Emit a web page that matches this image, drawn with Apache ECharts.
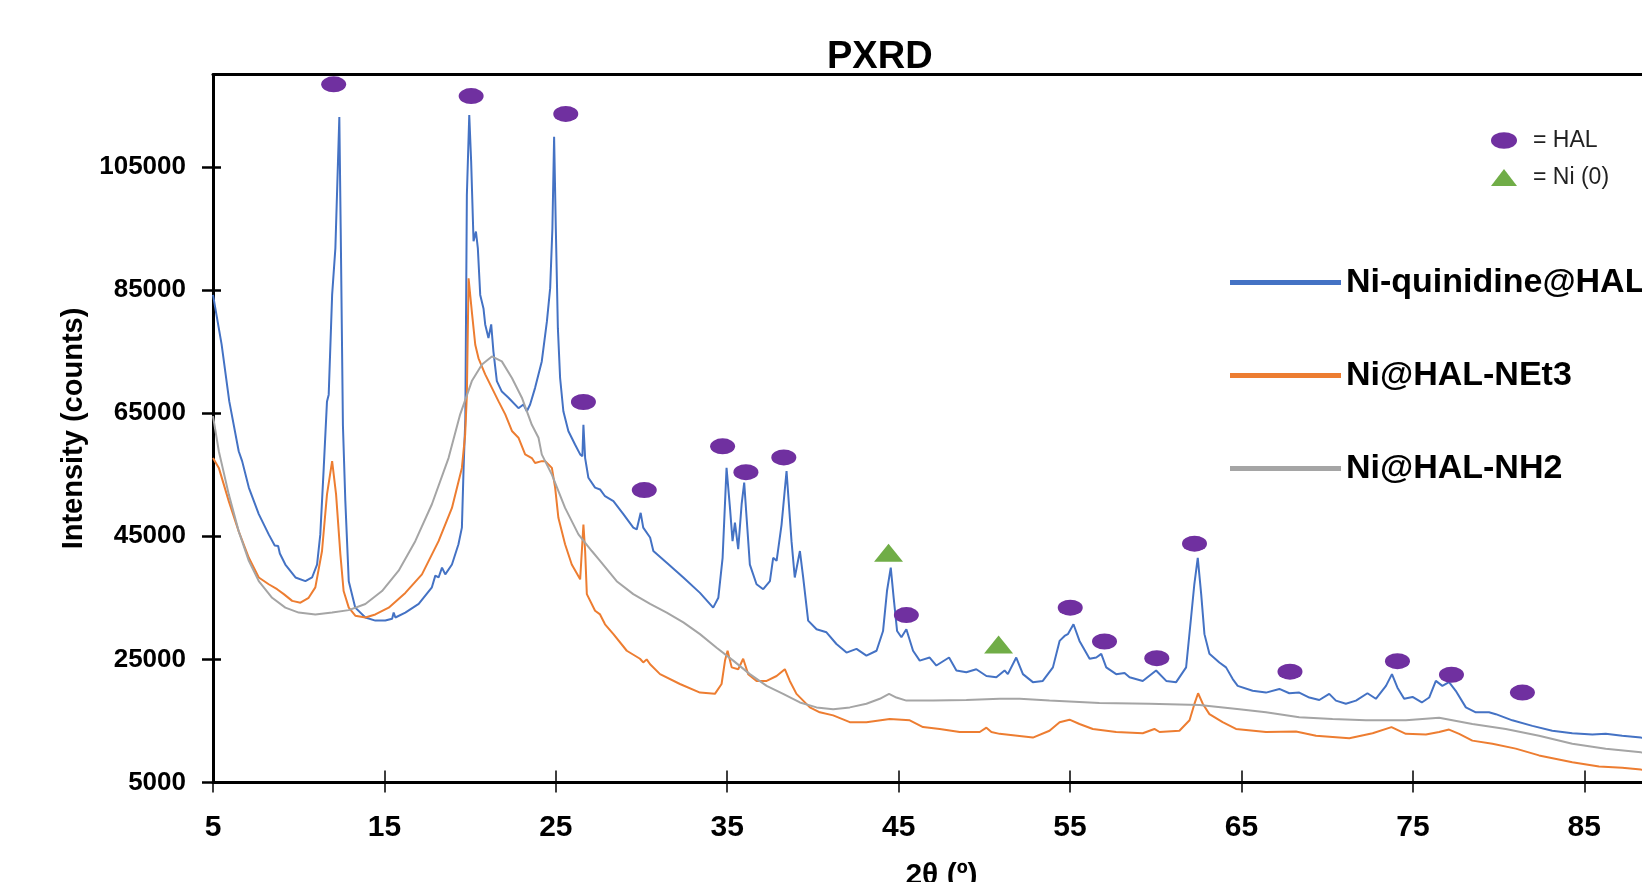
<!DOCTYPE html>
<html>
<head>
<meta charset="utf-8">
<script src="https://cdn.jsdelivr.net/npm/echarts@6/dist/echarts.min.js"></script>
<style>
html,body{margin:0;padding:0;background:#ffffff;}
#chart{width:1642px;height:882px;}
</style>
</head>
<body>
<div id="chart"></div>
<script>
// ---------- data (2θ in degrees, intensity in counts) ----------
const seriesNames = ['Ni-quinidine@HAL', 'Ni@HAL-NEt3', 'Ni@HAL-NH2'];

const quinidineHAL = [
[5.0,84200],[5.5,76200],[5.95,66900],[6.5,58800],[6.7,57200],[7.09,52900],[7.67,48600],[8.25,45300],
[8.6,43500],[8.8,43400],[8.9,42200],[9.22,40400],[9.81,38300],[10.39,37700],[10.78,38300],[11.07,40400],
[11.26,45300],[11.46,56100],[11.65,66900],[11.75,68000],[11.95,84200],[12.14,91800],[12.37,113100],
[12.45,95000],[12.58,63000],[12.72,50700],[12.92,37700],[13.3,33400],[13.89,31800],[14.47,31300],
[15.05,31300],[15.45,31600],[15.54,32600],[15.64,31800],[16.22,32600],[17.0,34000],[17.77,36700],
[17.97,38600],[18.16,38300],[18.36,39900],[18.55,38800],[18.94,40400],[19.32,43700],[19.52,46400],
[19.62,56100],[19.72,64000],[19.81,100400],[19.95,113400],[20.06,105900],[20.2,92900],[20.34,94500],
[20.45,91800],[20.59,84200],[20.78,82000],[20.88,79400],[21.07,77200],[21.23,79400],[21.36,75000],
[21.56,70200],[21.85,68500],[22.24,67500],[22.82,65800],[23.11,66400],[23.31,65300],[23.5,66400],
[23.79,69100],[24.18,73400],[24.48,79900],[24.67,85300],[24.8,95000],[24.9,109900],[25.0,95000],
[25.12,78800],[25.25,70700],[25.44,65300],[25.73,62100],[26.12,59900],[26.42,58300],[26.55,58000],
[26.61,63100],[26.71,57700],[26.9,54500],[27.29,52900],[27.58,52600],[27.87,51500],[28.36,50700],
[28.94,48600],[29.52,46400],[29.72,46100],[29.95,48800],[30.1,46400],[30.5,44800],[30.69,42600],
[31.47,40700],[32.44,38300],[33.41,35800],[34.18,33400],[34.48,35000],[34.73,41500],[34.96,56100],
[35.16,49600],[35.31,44200],[35.45,47200],[35.64,42900],[35.84,50200],[35.99,53700],[36.13,48000],
[36.32,40400],[36.71,37200],[37.1,36400],[37.49,37700],[37.68,41500],[37.88,41000],[38.17,46900],
[38.46,55600],[38.75,44200],[38.94,38300],[39.24,42600],[39.43,38300],[39.72,31300],[40.21,29900],
[40.79,29400],[41.37,27500],[41.96,26100],[42.54,26700],[43.12,25600],[43.71,26400],[44.09,29600],
[44.32,36100],[44.54,39900],[44.71,35000],[44.91,29600],[45.16,28600],[45.45,29900],[45.84,26400],
[46.23,24800],[46.81,25300],[47.2,24000],[47.94,25300],[48.37,23200],[48.95,22900],[49.53,23400],
[50.12,22300],[50.7,22100],[51.18,23200],[51.37,22600],[51.86,25300],[52.25,22600],[52.83,21300],
[53.41,21500],[54.0,23700],[54.39,28000],[54.68,28800],[54.87,29100],[55.2,30700],[55.55,28000],
[56.14,25100],[56.53,25300],[56.82,25900],[57.11,23700],[57.69,22600],[58.18,22800],[58.47,22100],
[59.24,21500],[60.02,23200],[60.61,21500],[61.19,21300],[61.77,23700],[62.06,31800],[62.25,37200],
[62.45,41500],[62.65,35600],[62.84,29100],[63.13,25900],[63.71,24500],[64.1,23700],[64.49,21800],
[64.78,20700],[65.65,19900],[66.43,19600],[67.21,20200],[67.79,19500],[68.37,19600],[68.96,18800],
[69.54,18400],[70.12,19400],[70.51,18300],[71.09,17800],[71.68,18300],[72.35,19500],[72.84,18600],
[73.43,20700],[73.78,22600],[74.1,20400],[74.49,18600],[74.98,18900],[75.52,18000],[75.95,18800],
[76.34,21500],[76.72,20700],[77.11,21300],[77.5,19900],[78.09,17200],[78.67,16400],[79.44,16400],
[79.84,16100],[80.8,15100],[81.97,14200],[83.13,13400],[84.3,13000],[85.47,12800],[86.25,12900],
[87.21,12600],[88.3,12300],[88.8,12200]
];

const net3HAL = [
[5.0,57700],[5.34,56100],[5.92,50700],[6.5,45800],[7.09,41500],[7.67,38300],[8.25,37200],[8.74,36400],
[9.13,35600],[9.62,34500],[10.1,34200],[10.58,35000],[10.97,36700],[11.36,42600],[11.65,51800],
[11.95,57200],[12.18,51800],[12.43,42100],[12.62,36100],[12.92,33400],[13.3,32100],[13.89,31800],
[14.47,32300],[15.25,33400],[16.22,35800],[17.19,38800],[18.16,44200],[18.94,49600],[19.52,56100],
[19.71,61500],[19.81,68000],[19.91,86900],[20.1,81500],[20.3,76100],[20.49,73900],[20.88,71300],
[21.27,69100],[21.66,66900],[22.05,64800],[22.44,62100],[22.82,61000],[23.21,58300],[23.6,57700],
[23.79,56900],[24.18,57200],[24.38,57200],[24.77,56100],[24.96,52900],[25.15,48000],[25.54,43700],
[25.93,40400],[26.42,38000],[26.61,46900],[26.71,42600],[26.81,35600],[27.29,32900],[27.58,32300],
[27.87,30700],[28.36,29100],[29.14,26400],[29.91,25100],[30.1,24500],[30.3,25000],[30.5,24200],
[31.08,22600],[32.24,21000],[33.41,19600],[34.28,19400],[34.67,21000],[34.87,24800],[35.02,26400],
[35.26,23700],[35.64,23400],[35.93,25100],[36.22,22600],[36.71,21500],[37.3,21500],[37.88,22300],
[38.36,23400],[38.65,21500],[39.04,19400],[39.43,18300],[39.82,17200],[40.4,16400],[41.18,15900],
[42.15,14800],[43.12,14800],[44.48,15300],[45.65,15100],[46.42,14000],[47.4,13700],[48.56,13200],
[49.73,13200],[50.12,13900],[50.41,13200],[50.89,12900],[52.83,12300],[53.8,13400],[54.39,14800],
[54.97,15200],[55.55,14500],[56.33,13700],[57.69,13200],[59.24,13000],[59.92,13700],[60.22,13200],
[61.38,13400],[61.97,15100],[62.26,17800],[62.47,19500],[62.74,17800],[63.13,16100],[63.9,14800],
[64.68,13700],[66.43,13200],[68.18,13300],[69.35,12600],[71.29,12200],[72.65,13000],[73.75,14000],
[74.59,12900],[75.76,12800],[76.53,13200],[77.11,13600],[77.7,12900],[78.47,11800],[79.64,11300],
[81.0,10500],[82.36,9400],[84.3,8300],[85.86,7600],[87.21,7400],[88.3,7100],[88.8,7000]
];

const nh2HAL = [
[5.0,64500],[5.34,58800],[5.92,51800],[6.5,45800],[7.09,41000],[7.67,37700],[8.45,35000],[9.22,33400],
[10.0,32600],[10.97,32300],[11.95,32600],[12.92,33000],[13.89,34000],[14.86,36100],[15.83,39400],
[16.8,44200],[17.77,50200],[18.74,57700],[19.42,64800],[20.1,70200],[20.69,72900],[21.27,74200],
[21.85,73400],[22.44,70700],[23.02,67500],[23.6,63100],[23.99,61000],[24.18,58300],[24.77,55000],
[25.54,49600],[26.32,45300],[27.1,42600],[27.58,41000],[28.55,37700],[29.52,35600],[30.5,34000],
[31.47,32600],[32.44,31000],[33.41,29100],[34.38,26900],[35.35,24800],[36.32,22600],[37.3,20700],
[38.26,19400],[39.24,18000],[40.21,17200],[41.18,16900],[42.15,17200],[43.12,17800],[43.9,18600],
[44.44,19400],[44.87,18800],[45.45,18300],[47.0,18300],[48.95,18400],[50.89,18600],[52.06,18600],
[53.8,18300],[56.71,17900],[59.63,17800],[62.55,17600],[64.88,16900],[66.43,16400],[68.37,15600],
[70.31,15300],[72.26,15100],[74.59,15100],[76.53,15500],[78.47,14500],[80.42,13700],[82.36,12600],
[84.3,11300],[86.25,10500],[88.3,9900],[88.8,9800]
];

// peak markers: HAL reflections and Ni(0) reflections
const halMarkers = [
[12.04,118400],[20.06,116500],[25.58,113600],[26.61,66800],[30.16,52500],[34.73,59600],[36.09,55400],
[38.3,57800],[45.45,32200],[55.01,33400],[57.01,27900],[60.06,25200],[62.26,43800],[67.83,23000],
[74.1,24700],[77.25,22500],[81.39,19600]
];
const ni0Markers = [[44.41,42300],[50.83,27400]];
const markerNames = ['= HAL', '= Ni (0)'];

// axis ticks
const xTicks = [5, 15, 25, 35, 45, 55, 65, 75, 85];
const yTicks = [5000, 25000, 45000, 65000, 85000, 105000];

// ---------- chart ----------
const FONT = 'Liberation Sans, Arial, sans-serif';
const colors = ['#4472C4', '#ED7D31', '#A5A5A5'];
const ellipsePath = 'path://M0,8A12.5,8,0,1,1,25,8A12.5,8,0,1,1,0,8Z';

const chart = echarts.init(document.getElementById('chart'), null, {renderer: 'canvas'});

const xBase = {min: 5, max: 90, interval: 10, type: 'value', splitLine: {show: false}};
const yBase = {min: 5000, max: 120000, interval: 20000, type: 'value', splitLine: {show: false}};
const plain = v => String(v);

const option = {
  backgroundColor: '#ffffff',
  animation: false,
  title: {
    text: 'PXRD', left: 827, top: 39, padding: 0,
    textStyle: {fontFamily: FONT, fontSize: 38, fontWeight: 'bold', color: '#000'}
  },
  grid: {left: 213, width: 1457, top: 74.5, height: 708, containLabel: false, outerBoundsMode: 'none'},
  legend: [
    {
      data: seriesNames, orient: 'vertical', left: 1230, top: 265, padding: 0,
      itemWidth: 111, itemHeight: 5, itemGap: 58, icon: 'rect',
      textStyle: {fontFamily: FONT, fontSize: 34, fontWeight: 'bold', color: '#000', lineHeight: 35}
    },
    {
      data: [{name: markerNames[0], icon: ellipsePath}, {name: markerNames[1], icon: 'triangle'}],
      orient: 'vertical', left: 1491, top: 129, padding: 0,
      itemWidth: 26, itemHeight: 17, itemGap: 14,
      textStyle: {fontFamily: FONT, fontSize: 23, color: '#222', lineHeight: 23, padding: [0, 0, 0, 11]}
    }
  ],
  xAxis: [
    Object.assign({}, xBase, {
      position: 'bottom', name: '2θ (º)', nameLocation: 'middle', nameGap: 78,
      nameTextStyle: {fontFamily: FONT, fontSize: 30, fontWeight: 'bold', color: '#000'},
      axisLine: {show: true, onZero: false, lineStyle: {color: '#000', width: 3}},
      axisTick: {show: true, inside: false, length: 10, customValues: xTicks, lineStyle: {color: '#000', width: 1.5}},
      axisLabel: {show: true, margin: 30, customValues: xTicks, formatter: plain, fontFamily: FONT, fontSize: 30, fontWeight: 'bold', color: '#000'}
    }),
    Object.assign({}, xBase, {
      position: 'top',
      axisLine: {show: true, onZero: false, lineStyle: {color: '#000', width: 3}},
      axisTick: {show: false}, axisLabel: {show: false}
    }),
    Object.assign({}, xBase, {
      position: 'bottom',
      axisLine: {show: false, onZero: false},
      axisTick: {show: true, inside: true, length: 12, customValues: xTicks, lineStyle: {color: '#000', width: 1.5}},
      axisLabel: {show: false}
    })
  ],
  yAxis: [
    Object.assign({}, yBase, {
      position: 'left', name: 'Intensity (counts)', nameLocation: 'middle', nameGap: 124, nameRotate: 90,
      nameTextStyle: {fontFamily: FONT, fontSize: 29, fontWeight: 'bold', color: '#000'},
      axisLine: {show: true, onZero: false, lineStyle: {color: '#000', width: 3}},
      axisTick: {show: true, inside: false, length: 11, customValues: yTicks, lineStyle: {color: '#000', width: 2.5}},
      axisLabel: {show: true, margin: 27, customValues: yTicks, formatter: plain, fontFamily: FONT, fontSize: 26, fontWeight: 'bold', color: '#000'}
    }),
    Object.assign({}, yBase, {
      position: 'left',
      axisLine: {show: false, onZero: false},
      axisTick: {show: true, inside: true, length: 8, customValues: yTicks, lineStyle: {color: '#000', width: 2.5}},
      axisLabel: {show: false}
    })
  ],
  series: [
    {name: seriesNames[0], type: 'line', data: quinidineHAL, showSymbol: false, symbol: 'none',
     lineStyle: {color: colors[0], width: 2}, itemStyle: {color: colors[0]}, z: 2},
    {name: seriesNames[1], type: 'line', data: net3HAL, showSymbol: false, symbol: 'none',
     lineStyle: {color: colors[1], width: 2}, itemStyle: {color: colors[1]}, z: 3},
    {name: seriesNames[2], type: 'line', data: nh2HAL, showSymbol: false, symbol: 'none',
     lineStyle: {color: colors[2], width: 2}, itemStyle: {color: colors[2]}, z: 4},
    {name: markerNames[0], type: 'scatter', data: halMarkers, symbol: ellipsePath, symbolSize: [25, 16],
     itemStyle: {color: '#7030A0', opacity: 1}, z: 5},
    {name: markerNames[1], type: 'scatter', data: ni0Markers, symbol: 'triangle', symbolSize: [29, 18],
     itemStyle: {color: '#70AD47', opacity: 1}, z: 5}
  ]
};
chart.setOption(option);
</script>
</body>
</html>
